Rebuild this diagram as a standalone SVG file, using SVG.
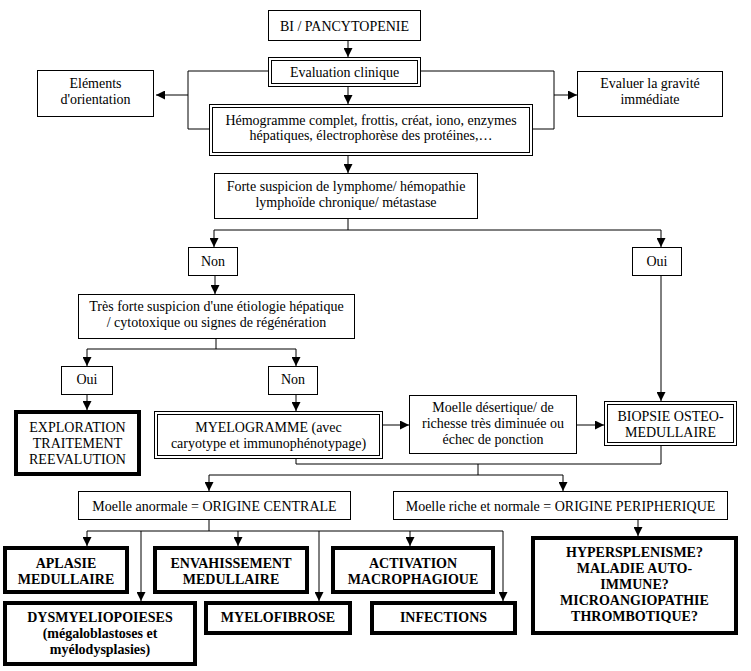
<svg xmlns="http://www.w3.org/2000/svg" width="751" height="671" viewBox="0 0 751 671">
<defs>
<marker id="ah" markerUnits="userSpaceOnUse" markerWidth="9" markerHeight="9" viewBox="0 0 10 10" refX="10" refY="5" orient="auto">
<path d="M0,0 L10,5 L0,10 z" fill="#000"/>
</marker>
<style>
.b{fill:#fff;stroke:#000;stroke-width:1}
.t{fill:#fff;stroke:#000;stroke-width:4}
.c{fill:none;stroke:#000;stroke-width:1}
.a{fill:none;stroke:#000;stroke-width:1;marker-end:url(#ah)}
text{font-family:"Liberation Serif","Times New Roman",serif;font-size:14px;fill:#000;text-anchor:middle}
.bd{font-weight:bold}
</style>
</defs>
<rect width="751" height="671" fill="#fff"/>
<g id="connectors">
<path class="a" d="M348,41 V57"/>
<path class="a" d="M348,87 V104"/>
<path class="c" d="M268,71 H188 V129 H209"/>
<path class="a" d="M188,95 H156"/>
<path class="c" d="M421,71 H554 V129 H533"/>
<path class="a" d="M554,95 H577"/>
<path class="a" d="M348,156 V173"/>
<path class="c" d="M348,219 V230 M214,230 H661"/>
<path class="a" d="M214,230 V247"/>
<path class="a" d="M661,230 V247"/>
<path class="a" d="M215,276 V294"/>
<path class="a" d="M661,276 V401"/>
<path class="c" d="M216,339 V349 M87,349 H296"/>
<path class="a" d="M87,349 V366"/>
<path class="a" d="M296,349 V366"/>
<path class="a" d="M87,395 V410"/>
<path class="a" d="M296,395 V411"/>
<path class="a" d="M383,425 H409"/>
<path class="a" d="M577,425 H604"/>
<path class="c" d="M296,459 V464 H661 V446 M478,464 V475 M209,475 H563"/>
<path class="a" d="M209,475 V491"/>
<path class="a" d="M563,475 V491"/>
<path class="c" d="M209,520 V531 M87,531 H503"/>
<path class="a" d="M87,531 V546"/>
<path class="a" d="M141,531 V601"/>
<path class="a" d="M238,531 V546"/>
<path class="a" d="M319,531 V601"/>
<path class="a" d="M410,531 V546"/>
<path class="a" d="M503,531 V601"/>
<path class="a" d="M638,520 V536"/>
</g>
<g id="n-bi"><rect class="b" x="268.5" y="10.5" width="152" height="30"/><text x="344.5" y="30.5">BI / PANCYTOPENIE</text></g>
<g id="n-eval"><rect class="b" x="268.5" y="57.5" width="152" height="29"/><rect class="b" x="271.5" y="60.5" width="146" height="23"/><text x="344.5" y="77">Evaluation clinique</text></g>
<g id="n-elements"><rect class="b" x="37.5" y="70.5" width="116" height="46"/><text x="95.5" y="88">Eléments</text><text x="95.5" y="104">d'orientation</text></g>
<g id="n-gravite"><rect class="b" x="577.5" y="71.5" width="145" height="45"/><text x="650" y="88">Evaluer la gravité</text><text x="650" y="104">immédiate</text></g>
<g id="n-hemo"><rect class="b" x="209.5" y="104.5" width="323" height="51"/><rect class="b" x="212.5" y="107.5" width="317" height="45"/><text x="371" y="124.5">Hémogramme complet, frottis, créat, iono, enzymes</text><text x="371" y="140">hépatiques, électrophorèse des protéines,…</text></g>
<g id="n-forte"><rect class="b" x="214.5" y="173.5" width="263" height="45"/><text x="346" y="191">Forte suspicion de lymphome/ hémopathie</text><text x="346" y="207">lymphoïde chronique/ métastase</text></g>
<g id="n-non1"><rect class="b" x="188.5" y="247.5" width="49" height="28"/><text x="213" y="266">Non</text></g>
<g id="n-oui1"><rect class="b" x="632.5" y="247.5" width="49" height="28"/><text x="657" y="266">Oui</text></g>
<g id="n-tres"><rect class="b" x="78.5" y="294.5" width="276" height="44"/><text x="216.5" y="311">Très forte suspicion d'une étiologie hépatique</text><text x="216.5" y="327">/ cytotoxique ou signes de régénération</text></g>
<g id="n-oui2"><rect class="b" x="61.5" y="366.5" width="51" height="28"/><text x="87" y="384">Oui</text></g>
<g id="n-non2"><rect class="b" x="268.5" y="366.5" width="49" height="28"/><text x="293" y="384">Non</text></g>
<g id="n-explo"><rect class="t" x="16" y="412" width="123" height="62"/><text x="77.5" y="432">EXPLORATION</text><text x="77.5" y="448">TRAITEMENT</text><text x="77.5" y="464">REEVALUTION</text></g>
<g id="n-myelo"><rect class="b" x="154.5" y="411.5" width="228" height="47"/><rect class="b" x="157.5" y="414.5" width="222" height="41"/><text x="268.5" y="432">MYELOGRAMME (avec</text><text x="268.5" y="448">caryotype et immunophénotypage)</text></g>
<g id="n-desert"><rect class="b" x="409.5" y="395.5" width="167" height="58"/><text x="493" y="412">Moelle désertique/ de</text><text x="493" y="428">richesse très diminuée ou</text><text x="493" y="444">échec de ponction</text></g>
<g id="n-biopsie"><rect class="b" x="604.5" y="401.5" width="132" height="44"/><rect class="b" x="607.5" y="404.5" width="126" height="38"/><text x="670.5" y="421">BIOPSIE OSTEO-</text><text x="670.5" y="437">MEDULLAIRE</text></g>
<g id="n-centrale"><rect class="b" x="78.5" y="491.5" width="272" height="28"/><text x="214.5" y="511">Moelle anormale = ORIGINE CENTRALE</text></g>
<g id="n-periph"><rect class="b" x="393.5" y="491.5" width="334" height="28"/><text x="560.5" y="511">Moelle riche et normale = ORIGINE PERIPHERIQUE</text></g>
<g id="n-aplasie"><rect class="t" x="5" y="548" width="122" height="44"/><text class="bd" x="66" y="568">APLASIE</text><text class="bd" x="66" y="584">MEDULLAIRE</text></g>
<g id="n-envah"><rect class="t" x="155" y="548" width="152" height="44"/><text class="bd" x="231" y="568">ENVAHISSEMENT</text><text class="bd" x="231" y="584">MEDULLAIRE</text></g>
<g id="n-activ"><rect class="t" x="333" y="548" width="160" height="44"/><text class="bd" x="413" y="568">ACTIVATION</text><text class="bd" x="413" y="584">MACROPHAGIOUE</text></g>
<g id="n-dysm"><rect class="t" x="5" y="603" width="190" height="61"/><text class="bd" x="100" y="622">DYSMYELIOPOIESES</text><text class="bd" x="100" y="638">(mégaloblastoses et</text><text class="bd" x="100" y="654">myélodysplasies)</text></g>
<g id="n-myelof"><rect class="t" x="206" y="603" width="144" height="30"/><text class="bd" x="278" y="622">MYELOFIBROSE</text></g>
<g id="n-infect"><rect class="t" x="372" y="603" width="143" height="30"/><text class="bd" x="443.5" y="622">INFECTIONS</text></g>
<g id="n-hyper"><rect class="t" x="533" y="538" width="203" height="95"/><text class="bd" x="634.5" y="557">HYPERSPLENISME?</text><text class="bd" x="634.5" y="573">MALADIE AUTO-</text><text class="bd" x="634.5" y="589">IMMUNE?</text><text class="bd" x="634.5" y="605">MICROANGIOPATHIE</text><text class="bd" x="634.5" y="621">THROMBOTIQUE?</text></g>
</svg>
